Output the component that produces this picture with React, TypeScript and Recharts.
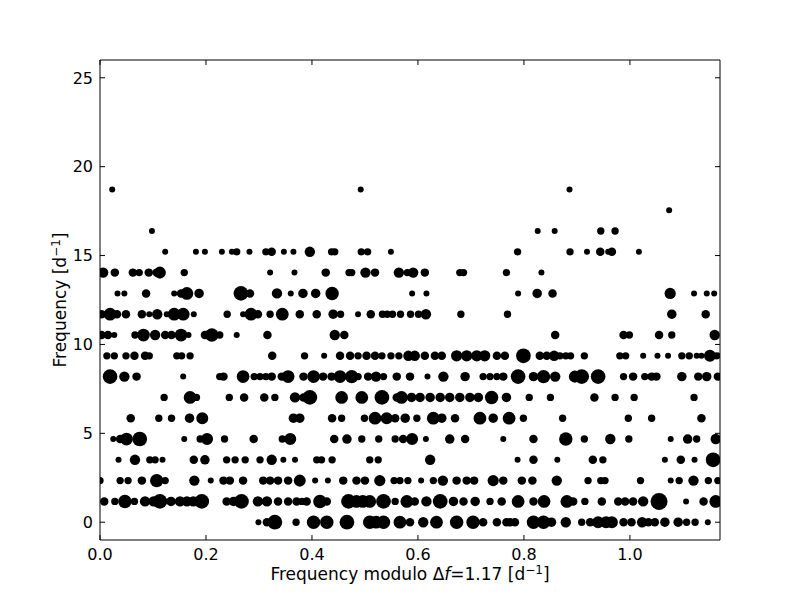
import React from 'react';
import { ScatterChart, Scatter, XAxis, YAxis, ZAxis, Label } from 'recharts';

// Échelle diagram: each row is a multiple of the frequency spacing, points are [frequency modulo Δf, amplitude]
const DELTA_F = 1.17;
const rowFreqs = [0, 1.17, 2.34, 3.51, 4.68, 5.85, 7.02, 8.19, 9.36, 10.53, 11.7, 12.87, 14.04, 15.21, 16.38, 17.55, 18.72];

const row0: [number, number][] = [[0.299,1],[0.315,2],[0.330,6],[0.370,1.5],[0.403,5],[0.428,5],[0.466,6],[0.509,5],[0.521,4.5],[0.535,5],[0.566,4.5],[0.585,2],[0.610,3],[0.635,4.5],[0.673,5],[0.704,5],[0.723,2],[0.749,2],[0.767,2],[0.774,2],[0.783,2],[0.818,5],[0.837,5],[0.852,2.5],[0.879,3],[0.909,1.5],[0.925,2],[0.940,4],[0.955,4],[0.966,4],[0.988,2],[1.003,2],[1.023,3],[1.035,2],[1.047,2],[1.066,2.5],[1.091,2.5],[1.107,1.5],[1.123,1.5],[1.147,1]];
const row1: [number, number][] = [[0.008,2],[0.028,1.5],[0.047,5],[0.065,1.5],[0.085,3],[0.101,3],[0.113,6],[0.134,2.5],[0.151,3],[0.164,3],[0.176,3],[0.192,6],[0.239,2],[0.252,2.5],[0.267,6],[0.298,3],[0.315,3],[0.336,2],[0.355,2],[0.371,2],[0.381,1.5],[0.390,2],[0.415,5],[0.428,2],[0.469,6],[0.484,4.5],[0.496,4.5],[0.509,4.5],[0.535,6],[0.557,1.5],[0.579,4.5],[0.594,2],[0.616,3],[0.642,6],[0.667,2.5],[0.686,2],[0.708,2.5],[0.736,1.5],[0.758,2],[0.789,4.5],[0.818,2],[0.838,4.5],[0.881,4.5],[0.893,2],[0.915,1.5],[0.947,2],[0.978,2],[0.991,2],[1.006,2],[1.025,3],[1.055,8],[1.106,1],[1.139,2],[1.162,4.5]];
const row2: [number, number][] = [[0.000,1.5],[0.038,1.5],[0.053,1.5],[0.079,2],[0.107,5],[0.123,1.5],[0.178,3],[0.209,1],[0.233,2],[0.245,2],[0.270,2],[0.308,2],[0.321,2],[0.336,2],[0.355,2],[0.377,4],[0.406,1],[0.430,1],[0.459,2],[0.484,2],[0.500,2],[0.528,3.5],[0.555,1.5],[0.566,1.5],[0.581,1.5],[0.606,1],[0.629,1.5],[0.647,3],[0.673,2],[0.692,2],[0.706,2],[0.742,3.5],[0.761,2],[0.796,2],[0.816,2],[0.862,3],[0.921,1.5],[0.945,1.5],[0.953,1.5],[1.020,1.5],[1.077,1],[1.093,1.5],[1.120,3],[1.148,1.5],[1.166,1.5]];
const row3: [number, number][] = [[0.035,1],[0.066,3],[0.094,1.5],[0.104,1.5],[0.118,1],[0.177,2],[0.198,2.5],[0.239,1.5],[0.255,1.5],[0.274,1.5],[0.302,1.5],[0.324,3],[0.346,1],[0.368,1],[0.409,1.5],[0.418,1.5],[0.438,1.5],[0.509,1.5],[0.525,1.5],[0.623,3],[0.788,1],[0.818,2],[0.863,1],[0.930,2],[0.949,1.5],[1.066,1],[1.096,2],[1.122,1],[1.157,6]];
const row4: [number, number][] = [[0.025,1],[0.038,2],[0.050,4.5],[0.075,6],[0.159,1],[0.189,1.5],[0.202,4],[0.235,1.5],[0.290,2],[0.344,1.5],[0.359,4],[0.442,2],[0.466,2.5],[0.494,1.5],[0.526,1.5],[0.557,1.5],[0.572,2],[0.589,4],[0.615,1],[0.660,2.5],[0.689,2],[0.761,1],[0.818,2],[0.879,5],[0.914,1.5],[0.963,3],[0.998,1.5],[1.077,1],[1.109,2.5],[1.126,1.5],[1.162,3]];
const row5: [number, number][] = [[0.058,2],[0.111,1.5],[0.135,1.5],[0.169,2.5],[0.193,4],[0.365,2.5],[0.377,2.5],[0.438,2],[0.456,1.5],[0.499,1.5],[0.519,4.5],[0.541,4],[0.557,2],[0.576,2.5],[0.598,1.5],[0.629,4.5],[0.645,2.5],[0.670,2],[0.717,4.5],[0.742,2.5],[0.772,4.5],[0.799,1.5],[0.873,1.5],[0.997,1.5],[1.041,1.5],[1.135,2]];
const row6: [number, number][] = [[0.121,1.5],[0.170,4.5],[0.182,1.5],[0.244,1.5],[0.272,2],[0.310,2],[0.330,1.5],[0.368,3],[0.384,2],[0.396,6],[0.456,4.5],[0.494,4.5],[0.532,6],[0.560,2],[0.569,4.5],[0.588,2.5],[0.604,2.5],[0.623,2.5],[0.642,2.5],[0.660,2.5],[0.679,2.5],[0.698,2.5],[0.714,2.5],[0.739,5],[0.767,2.5],[0.810,1.5],[0.850,1.5],[0.933,2],[0.972,1.5],[1.008,1.5],[1.121,1.5]];
const row7: [number, number][] = [[0.019,6],[0.046,3],[0.069,2],[0.157,1],[0.226,1.5],[0.233,2],[0.270,4.5],[0.291,1.5],[0.302,1.5],[0.313,1.5],[0.324,2],[0.343,2],[0.355,4.5],[0.384,2],[0.403,4.5],[0.421,2],[0.437,2],[0.453,4.5],[0.475,5],[0.487,1.5],[0.506,2],[0.521,3],[0.535,1.5],[0.560,2],[0.585,2],[0.618,1],[0.648,3],[0.689,2.5],[0.723,1.5],[0.736,1.5],[0.749,1.5],[0.761,2],[0.789,6],[0.818,2.5],[0.837,5],[0.859,3],[0.896,4],[0.909,6],[0.940,6],[0.988,1.5],[1.006,2],[1.028,1.5],[1.041,2],[1.050,2],[1.098,2.5],[1.129,2],[1.145,2.5],[1.166,2]];
const row8: [number, number][] = [[0.013,1.5],[0.027,1.5],[0.049,1.5],[0.065,2],[0.085,2],[0.093,1.5],[0.145,1.5],[0.154,1.5],[0.170,1.5],[0.325,2],[0.386,1.5],[0.423,1],[0.453,2],[0.472,2],[0.487,1.5],[0.503,2],[0.519,2],[0.532,1.5],[0.549,1.5],[0.564,1.5],[0.582,3],[0.594,3],[0.613,2],[0.632,2],[0.645,2],[0.673,3.5],[0.692,3.5],[0.711,3.5],[0.726,3.5],[0.749,2],[0.764,2],[0.799,6],[0.830,2],[0.843,2],[0.857,3],[0.868,1.5],[0.879,1.5],[0.888,1.5],[0.914,1.5],[0.981,1.5],[0.992,1.5],[1.025,1],[1.052,1],[1.072,1],[1.098,1.5],[1.112,1.5],[1.126,1],[1.135,1],[1.151,4],[1.164,1.5]];
const row9: [number, number][] = [[0.003,2],[0.015,2],[0.027,1],[0.066,1.5],[0.082,4.5],[0.104,3],[0.123,2],[0.135,2],[0.153,4.5],[0.167,1],[0.198,2],[0.211,5],[0.226,1.5],[0.258,1],[0.316,2],[0.443,3],[0.461,2],[0.859,2],[0.988,2],[0.999,1.5],[1.055,2],[1.079,1.5],[1.160,3]];
const row10: [number, number][] = [[0.003,2],[0.019,4.5],[0.032,2],[0.049,2],[0.079,2],[0.093,1],[0.108,3],[0.126,1],[0.140,4.5],[0.157,4.5],[0.177,1],[0.240,1.5],[0.270,1],[0.285,4.5],[0.298,2],[0.321,1.5],[0.344,4.5],[0.377,2],[0.409,2],[0.440,2.5],[0.454,1.5],[0.487,1],[0.511,2],[0.533,1.5],[0.542,1.5],[0.552,1.5],[0.567,1.5],[0.586,1.5],[0.601,1.5],[0.615,3],[0.681,1.5],[0.769,1.5],[1.079,2.5],[1.143,2]];
const row11: [number, number][] = [[0.033,1],[0.046,1],[0.087,2],[0.140,1],[0.153,2],[0.164,4.5],[0.187,2.5],[0.266,6],[0.283,2],[0.334,3],[0.360,1],[0.383,2.5],[0.407,2.5],[0.438,5],[0.589,1],[0.616,1],[0.789,1],[0.825,2.5],[0.854,2],[1.076,3.5],[1.121,1],[1.145,1],[1.159,1]];
const row12: [number, number][] = [[0.006,3],[0.028,2],[0.062,2],[0.074,1.5],[0.092,2],[0.107,2],[0.113,4],[0.159,1.5],[0.321,1],[0.367,1],[0.426,2],[0.470,1.5],[0.475,1.5],[0.501,3],[0.519,2],[0.564,3],[0.580,1.5],[0.591,3],[0.613,2],[0.679,1.5],[0.686,1.5],[0.767,1.5],[0.833,1]];
const row13: [number, number][] = [[0.123,1],[0.181,1],[0.198,1],[0.230,1],[0.249,1],[0.258,1.5],[0.282,1],[0.313,1.5],[0.324,2],[0.347,1],[0.365,1],[0.396,3],[0.437,1.5],[0.443,1.5],[0.493,1.5],[0.505,1.5],[0.549,1],[0.788,1.5],[0.887,1.5],[0.919,1],[0.944,2],[0.959,1],[0.966,2],[1.017,1]];
const row14: [number, number][] = [[0.098,1],[0.826,1],[0.858,1],[0.945,1.5],[0.972,1.5]];
const row15: [number, number][] = [[1.074,1]];
const row16: [number, number][] = [[0.023,1],[0.492,1],[0.886,1]];

const rows = [row0, row1, row2, row3, row4, row5, row6, row7, row8, row9, row10, row11, row12, row13, row14, row15, row16];

const xTicks = [0, 0.2, 0.4, 0.6, 0.8, 1.0];
const yTicks = [0, 5, 10, 15, 20, 25];

const data = rows.flatMap((row, k) => row.map(([x, amp]) => ({ x, y: rowFreqs[k], amp })));

const FONT = 'DejaVu Sans';
const FS = 16;
const LFS = 17;

const BottomTick = (p: any) => (
  <g>
    <line x1={p.x} x2={p.x} y1={p.y} y2={p.y - 5} stroke="#000" strokeWidth={1} />
    <text x={p.x} y={p.y + 20} textAnchor="middle" fontFamily={FONT} fontSize={FS} fill="#000">
      {Number(p.payload.value).toFixed(1)}
    </text>
  </g>
);
const TopTick = (p: any) => (
  <line x1={p.x} x2={p.x} y1={p.y} y2={p.y + 5} stroke="#000" strokeWidth={1} />
);
const LeftTick = (p: any) => (
  <g>
    <line x1={p.x} x2={p.x + 5} y1={p.y} y2={p.y} stroke="#000" strokeWidth={1} />
    <text x={p.x - 7} y={p.y} dy="0.36em" textAnchor="end" fontFamily={FONT} fontSize={FS} fill="#000">
      {p.payload.value}
    </text>
  </g>
);
const RightTick = (p: any) => (
  <line x1={p.x} x2={p.x - 5} y1={p.y} y2={p.y} stroke="#000" strokeWidth={1} />
);
const NoShape = () => <g />;

const XLabel = (props: any) => {
  const vb = props.viewBox;
  return (
    <text x={vb.x + vb.width / 2} y={vb.y + 40} textAnchor="middle" fontFamily={FONT} fontSize={LFS} fill="#000">
      Frequency modulo Δ<tspan fontStyle="italic">f</tspan>=1.17 [d<tspan dy={-6} fontSize={12}>−1</tspan><tspan dy={6}>]</tspan>
    </text>
  );
};
const YLabel = (props: any) => {
  const vb = props.viewBox;
  const cx = vb.x + 26;
  const cy = vb.y + vb.height / 2;
  return (
    <text x={cx} y={cy} transform={`rotate(-90 ${cx} ${cy})`} textAnchor="middle" fontFamily={FONT} fontSize={LFS} fill="#000">
      Frequency [d<tspan dy={-6} fontSize={12}>−1</tspan><tspan dy={6}>]</tspan>
    </text>
  );
};

export default function App() {
  return (
    <div style={{ position: 'absolute', left: 0, top: 0, width: 800, height: 600, background: '#fff' }}>
      <ScatterChart width={800} height={600} margin={{ top: 59, right: 79, bottom: 0, left: 40 }}>
        <XAxis xAxisId="b" type="number" dataKey="x" domain={[0, DELTA_F]} ticks={xTicks} allowDataOverflow
          height={60} tickSize={0} tickMargin={0} tickLine={false} axisLine={{ stroke: '#000', strokeWidth: 1 }} tick={BottomTick} interval={0}>
          <Label content={XLabel} />
        </XAxis>
        <XAxis xAxisId="t" orientation="top" type="number" dataKey="x" domain={[0, DELTA_F]} ticks={xTicks} allowDataOverflow
          height={1} tickSize={0} tickMargin={0} tickLine={false} axisLine={{ stroke: '#000', strokeWidth: 1 }} tick={TopTick} interval={0} />
        <YAxis yAxisId="l" type="number" dataKey="y" domain={[-1, 26]} ticks={yTicks} allowDataOverflow
          width={60} tickSize={0} tickMargin={0} tickLine={false} axisLine={{ stroke: '#000', strokeWidth: 1 }} tick={LeftTick} interval={0}>
          <Label content={YLabel} />
        </YAxis>
        <YAxis yAxisId="r" orientation="right" type="number" dataKey="y" domain={[-1, 26]} ticks={yTicks} allowDataOverflow
          width={1} tickSize={0} tickMargin={0} tickLine={false} axisLine={{ stroke: '#000', strokeWidth: 1 }} tick={RightTick} interval={0} />
        <ZAxis type="number" dataKey="amp" domain={[0, 10]} range={[0, 283]} />
        <Scatter data={data} xAxisId="t" yAxisId="r" shape={NoShape} isAnimationActive={false} />
        <Scatter data={data} xAxisId="b" yAxisId="l" fill="#000" isAnimationActive={false} />
      </ScatterChart>
    </div>
  );
}
